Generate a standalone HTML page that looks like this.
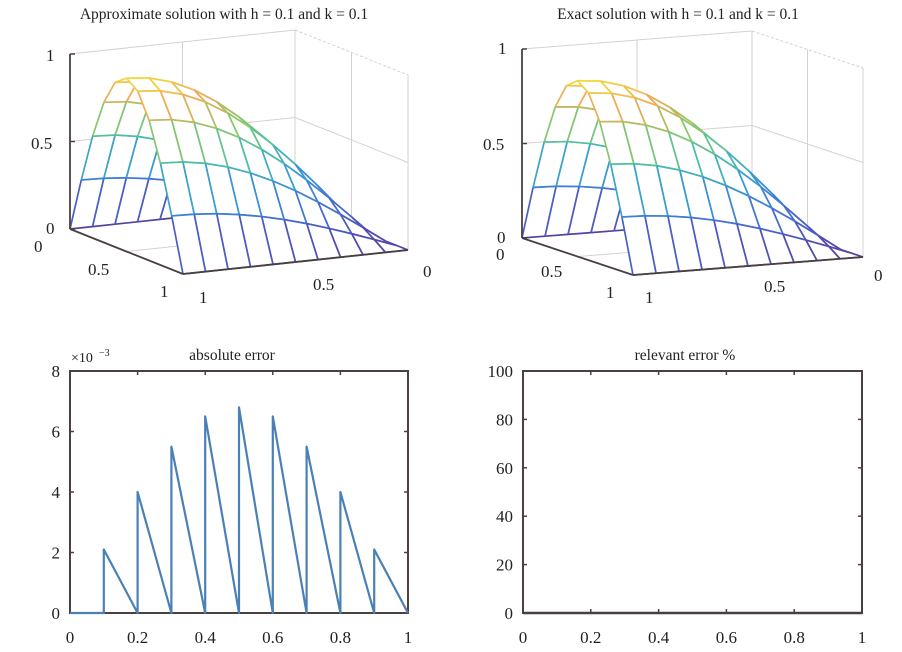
<!DOCTYPE html>
<html><head><meta charset="utf-8"><style>
html,body{margin:0;padding:0;background:#fff;}
svg{display:block;font-family:"Liberation Serif",serif;}
</style></head><body>
<svg id="s" width="902" height="652" viewBox="0 0 902 652" xmlns="http://www.w3.org/2000/svg">
<rect width="902" height="652" fill="#fff"/>
<g font-size="15.5" fill="#222" text-anchor="middle">
<text x="224" y="19">Approximate solution with h = 0.1 and k = 0.1</text>
<text x="678" y="19">Exact solution with h = 0.1 and k = 0.1</text>
<text x="232" y="360">absolute error</text>
<text x="685" y="360">relevant error %</text>
</g>
<g font-size="17" fill="#222">
<text x="46" y="61">1</text><text x="31" y="149">0.5</text><text x="46" y="234">0</text>
<text x="34" y="252">0</text><text x="88" y="275">0.5</text><text x="160" y="297">1</text>
<text x="199" y="303">1</text><text x="313" y="290">0.5</text><text x="423" y="277">0</text>
<text x="498" y="54">1</text><text x="483" y="150">0.5</text><text x="497" y="243">0</text>
<text x="496" y="260">0</text><text x="541" y="277">0.5</text><text x="606" y="298">1</text>
<text x="645" y="303">1</text><text x="764" y="292">0.5</text><text x="874" y="281">0</text>
</g>
<g id="p3d"></g>
<g id="p2d"></g>
</svg>
<script>
var NS="http://www.w3.org/2000/svg";
function el(p,t,a){var e=document.createElementNS(NS,t);for(var k in a)e.setAttribute(k,a[k]);p.appendChild(e);return e;}
var stops=[[0,[85,65,160]],[0.2,[70,105,210]],[0.4,[55,155,210]],[0.55,[75,190,170]],[0.7,[140,200,105]],[0.85,[240,170,85]],[1,[240,228,60]]];
function cmap(v){v=Math.max(0,Math.min(1,v));for(var i=1;i<stops.length;i++){if(v<=stops[i][0]){var a=stops[i-1],b=stops[i],t=(v-a[0])/(b[0]-a[0]);var c=a[1].map(function(x,k){return Math.round(x+(b[1][k]-x)*t);});return "rgb("+c.join(",")+")";}}return "rgb(240,228,60)";}
var g3=document.getElementById("p3d");
function plot3(B,A,Bv,Z,amp){
  function P(a,b,z){return [B[0]+a*A[0]+b*Bv[0],B[1]+a*A[1]+b*Bv[1]-z*Z];}
  var lg="#d8d0d0",box="#4a4040";
  var bk0=P(0,0,0),bk1=P(0,0,1),l0=P(0,1,0),l1=P(0,1,1),r0=P(1,0,0),r1=P(1,0,1);
  function L(p,q,c,w,d){var o={x1:p[0],y1:p[1],x2:q[0],y2:q[1],stroke:c,"stroke-width":w||1};if(d)o["stroke-dasharray"]=d;el(g3,"line",o);}
  L(bk0,bk1,lg);L(bk1,l1,lg);L(bk1,r1,lg,1,"3,2");L(r0,r1,lg);
  L(P(0,0.5,0),P(0,0.5,1),lg);L(P(0,0,0.5),P(0,1,0.5),lg);
  L(P(0.5,0,0),P(0.5,0,1),lg);L(P(0,0,0.5),P(1,0,0.5),lg);
  L(P(0,0.5,0),P(1,0.5,0),lg);L(P(0.5,0,0),P(0.5,1,0),lg);
  L(bk0,l0,lg);L(bk0,r0,lg);
  var N=10,f=function(a,b){return amp*Math.sin(Math.PI*a)*Math.sin(Math.PI*b/2);};
  var q=[];for(var i=0;i<N;i++)for(var j=0;j<N;j++)q.push([i,j]);
  q.sort(function(x,y){return (45*(x[0])+24*x[1])-(45*y[0]+24*y[1]);});
  q.forEach(function(ij){var i=ij[0],j=ij[1];var c=[[i,j],[i+1,j],[i+1,j+1],[i,j+1]].map(function(k){var a=k[0]/N,b=k[1]/N,z=f(a,b);return {p:P(a,b,z),z:z};});
    el(g3,"polygon",{points:c.map(function(o){return o.p.join(",");}).join(" "),fill:"#fff"});
    for(var k=0;k<4;k++){var u=c[k],v=c[(k+1)%4];L(u.p,v.p,cmap((u.z+v.z)/2/amp*0.98),1.7);}
  });
  var f0=P(1,1,0);
  L(l0,l1,box,1.8);L(l0,f0,box,1.8);L(f0,r0,box,1.8);
  [0,0.5,1].forEach(function(t){var p=P(0,1,t);L(p,[p[0]+5,p[1]],box,1.5);});
}
plot3([295,205],[113,45],[-225,24],175,0.99);
plot3([752,220],[111,37],[-230,18],189,0.93);
var g2=document.getElementById("p2d");
function ax(x0,x1,y0,y1,ymax,ystep){
  var bx="#4a4040";
  for(var k=0;k<=5;k++){var x=x0+(x1-x0)*k/5;el(g2,"line",{x1:x,y1:y1,x2:x,y2:y1-4,stroke:bx,"stroke-width":1.5});el(g2,"line",{x1:x,y1:y0,x2:x,y2:y0+4,stroke:bx,"stroke-width":1.5});
    var t=el(g2,"text",{x:x,y:y1+30,"font-size":17,"text-anchor":"middle",fill:"#222"});t.textContent=(k==0?"0":k==5?"1":"0."+(2*k));}
  for(var v=0;v<=ymax;v+=ystep){var y=y1-(y1-y0)*v/ymax;el(g2,"line",{x1:x0,y1:y,x2:x0+4,y2:y,stroke:bx,"stroke-width":1.5});el(g2,"line",{x1:x1,y1:y,x2:x1-4,y2:y,stroke:bx,"stroke-width":1.5});
    var t=el(g2,"text",{x:x0-10,y:y+6,"font-size":17,"text-anchor":"end",fill:"#222"});t.textContent=v;}
  el(g2,"rect",{x:x0,y:y0,width:x1-x0,height:y1-y0,fill:"none",stroke:bx,"stroke-width":2});
}
ax(70,408,371,613,8,2);
var t=el(g2,"text",{x:71,y:362,"font-size":14,fill:"#222"});t.textContent="×10";
t=el(g2,"text",{x:99,y:356,"font-size":10,fill:"#222"});t.textContent="−3";
var pk=[2.1,4.0,5.5,6.5,6.8,6.5,5.5,4.0,2.1];
function X(v){return 70+338*v;}function Y(v){return 613-242*v/8;}
var d="M"+X(0)+","+Y(0)+" L"+X(0.1)+","+Y(0);
for(var i=0;i<9;i++){var x=(i+1)/10;d+=" L"+X(x)+","+Y(pk[i])+" L"+X(x+0.1)+","+Y(0);}
el(g2,"path",{d:d,fill:"none",stroke:"#4a80b5","stroke-width":2.2,"stroke-linejoin":"round"});
ax(523,862,371,613,100,20);
el(g2,"line",{x1:523,y1:613,x2:862,y2:613,stroke:"#4a4040","stroke-width":2.5});
</script>
</body></html>
